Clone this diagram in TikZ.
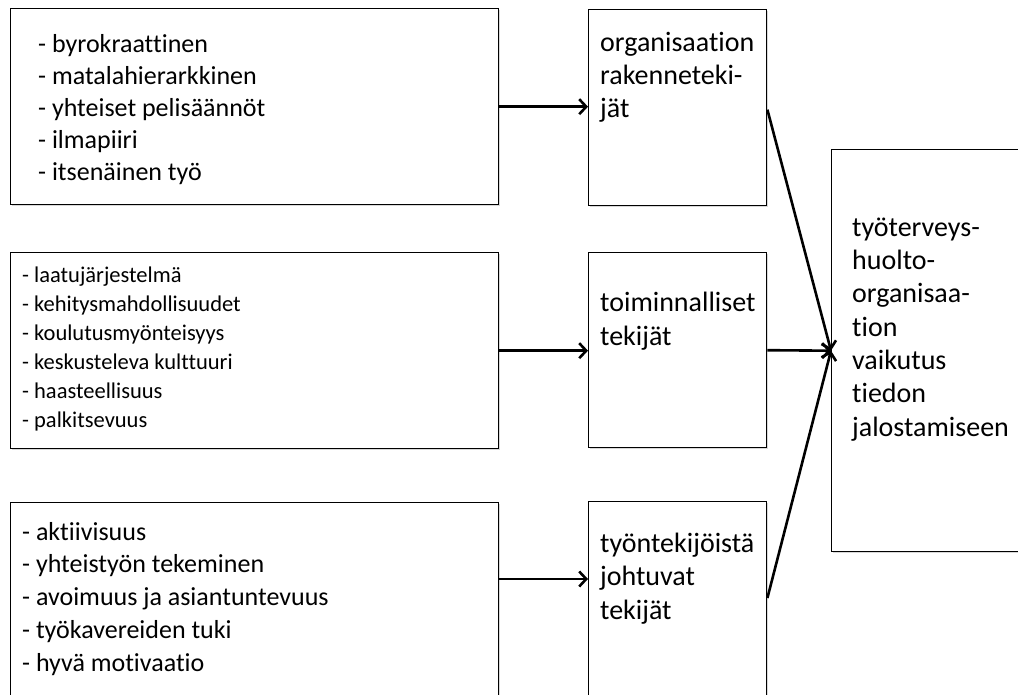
\documentclass[tikz,border=0pt]{standalone}
\usepackage{fontspec}
\setmainfont[Ligatures=NoCommon]{Carlito}
\usetikzlibrary{arrows.meta,shadows}
\begin{document}
\begin{tikzpicture}[x=1pt,y=-1pt,
  box/.style={draw=black, line width=1.4pt, fill=white, inner sep=0pt, anchor=north west,
    drop shadow={shadow xshift=1.2pt, shadow yshift=-1.5pt, fill=black!30, opacity=0.5}},
  txt/.style={anchor=base west, align=left, inner sep=0pt},
  fa/.style={font=\fontsize{26}{32}\selectfont},
  fb/.style={font=\fontsize{22.5}{29.1}\selectfont},
  fc/.style={font=\fontsize{26}{32.7}\selectfont},
  fr/.style={font=\fontsize{28}{33.3}\selectfont},
  arr/.style={line width=2.6pt, -{Straight Barb[length=7pt,width=15pt]}}]
\useasboundingbox (0,0) rectangle (1018,695);
\clip (0,0) rectangle (1018,695);
% left boxes
\node[box, minimum width=488pt, minimum height=196pt] (a) at (10,8) {};
\node[box, minimum width=488pt, minimum height=196pt] (b) at (10,252) {};
\node[box, minimum width=488pt, minimum height=230pt] (c) at (10,502) {};
% middle boxes
\node[box, minimum width=178pt, minimum height=196pt] (org) at (588,9) {};
\node[box, minimum width=178pt, minimum height=195pt] (toim) at (588,252) {};
\node[box, minimum width=178pt, minimum height=230pt] (tyo) at (588,501) {};
% result box
\node[box, minimum width=210pt, minimum height=402pt] (big) at (831,149) {};
% texts (anchored at the baseline of the last line)
\node[txt, fa] (ta) at (38,181) {- byrokraattinen\\- matalahierarkkinen\\- yhteiset pelisäännöt\\- ilmapiiri\\- itsenäinen työ};
\node[txt, fb] (tb) at (22,427.5) {- laatujärjestelmä\\- kehitysmahdollisuudet\\- koulutusmyönteisyys\\- keskusteleva kulttuuri\\- haasteellisuus\\- palkitsevuus};
\node[txt, fc] (tc) at (22,671) {- aktiivisuus\\- yhteistyön tekeminen\\- avoimuus ja asiantuntevuus\\- työkavereiden tuki\\- hyvä motivaatio};
\node[txt, fr] (torg) at (600,118) {organisaation\\rakenneteki-\\jät};
\node[txt, fr] (ttoim) at (600,345) {toiminnalliset\\tekijät};
\node[txt, fr] (ttyo) at (600,619) {työntekijöistä\\johtuvat\\tekijät};
\node[txt, fr] (tbig) at (852,436) {työterveys-\\huolto-\\organisaa-\\tion\\vaikutus\\tiedon\\jalostamiseen};
% connectors
\draw[arr] (a.east) -- (a.east -| org.west);
\draw[arr] (b.east) -- (b.east -| toim.west);
\draw[arr] ([yshift=-77pt]c.north east) -- ([yshift=-77pt]c.north east -| tyo.west);
\draw[arr] ([yshift=-2pt]org.east) -- (big.west);
\draw[arr] (toim.east) -- (big.west);
\draw[arr] ([yshift=-97pt]tyo.north east) -- (big.west);
\end{tikzpicture}
\end{document}
